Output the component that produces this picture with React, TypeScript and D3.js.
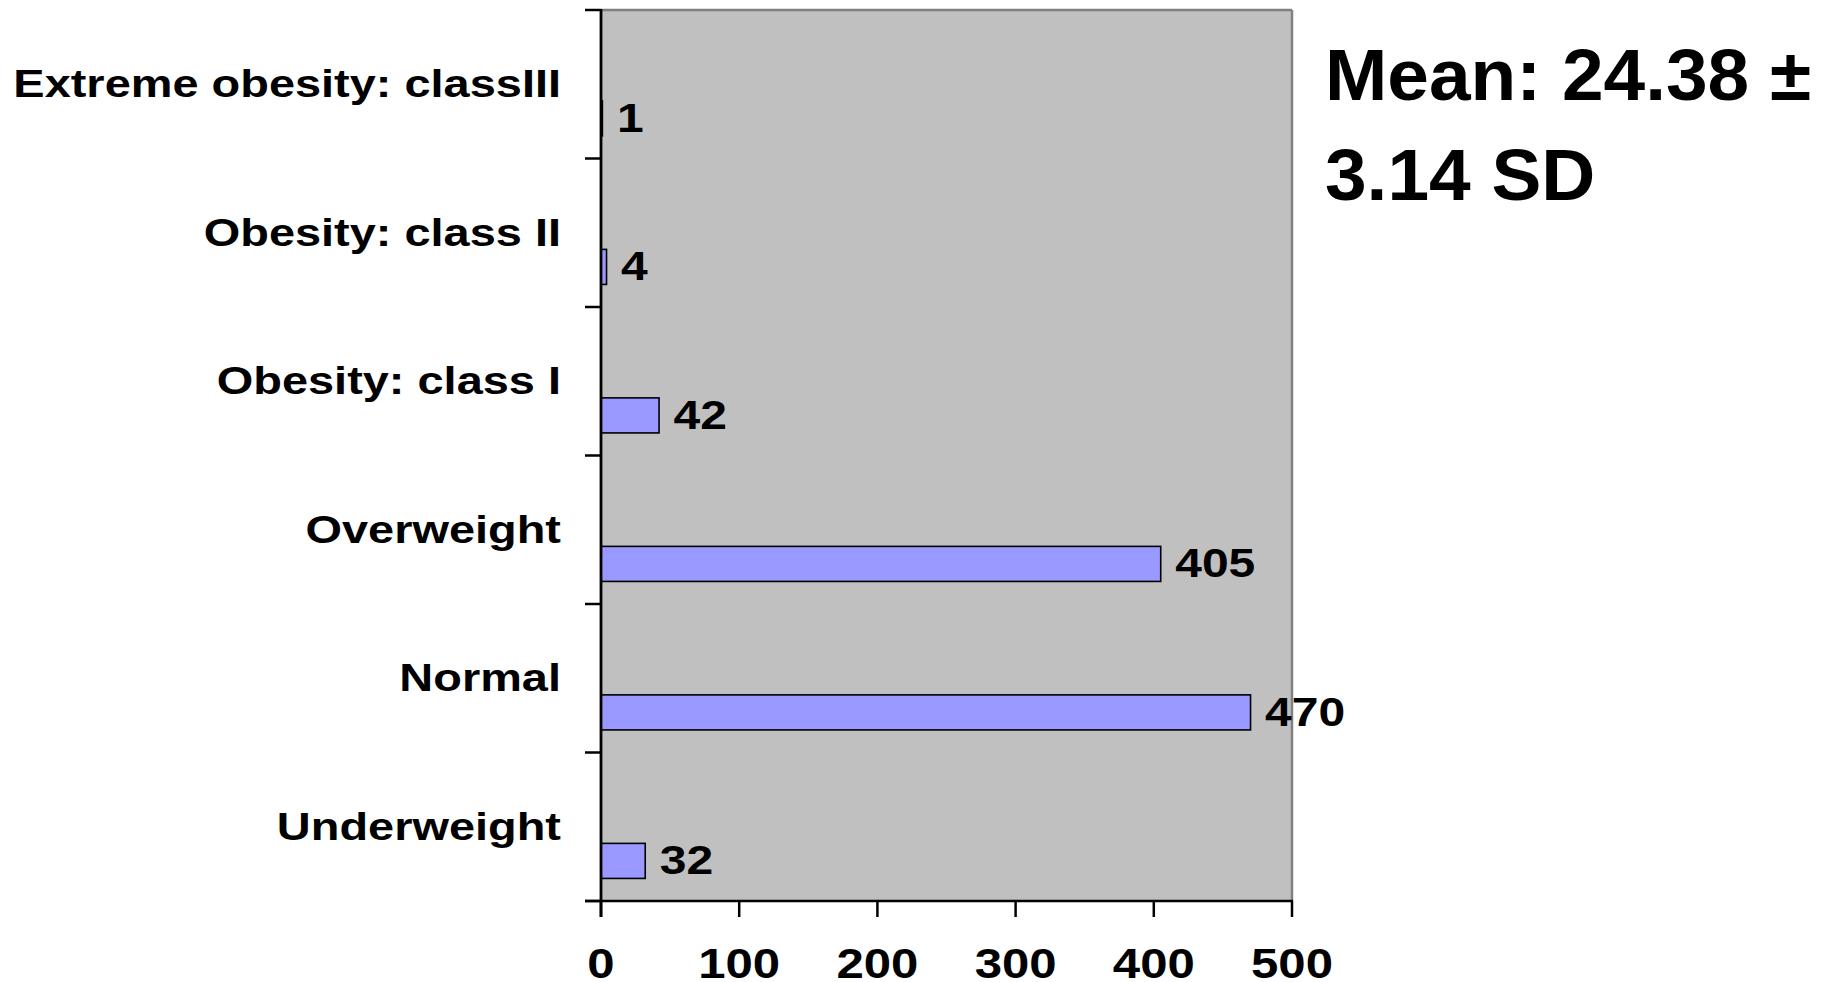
import React from "react";
import * as d3 from "d3";

// BMI categories, listed bottom to top as drawn
const categories = [
  "Underweight",
  "Normal",
  "Overweight",
  "Obesity: class I",
  "Obesity: class II",
  "Extreme obesity: classIII",
];
const counts = [32, 470, 405, 42, 4, 1];
const xTicks = [0, 100, 200, 300, 400, 500];
const noteLines = ["Mean: 24.38 \u00b1", "3.14 SD"];

const W = 1827;
const H = 982;
const plot = { left: 601, right: 1292, top: 10, bottom: 901 };
const FONT = "'Liberation Sans', Arial, Helvetica, sans-serif";

export default function App() {
  const x = d3.scaleLinear().domain([0, 500]).range([plot.left, plot.right]);
  // bands top-to-bottom: reverse so the first category sits at the bottom
  const y = d3
    .scaleBand<string>()
    .domain([...categories].reverse())
    .range([plot.top, plot.bottom])
    .padding(0);
  const bw = y.bandwidth();
  const barTop = 0.612;
  const barBot = 0.848;
  const boundaries = d3.range(categories.length + 1).map((i) => plot.top + i * bw);

  return (
    <svg
      width={W}
      height={H}
      style={{ position: "absolute", left: 0, top: 0, background: "#fff" }}
      fontFamily={FONT}
      fontWeight="bold"
    >
      {/* plot background */}
      <rect
        x={plot.left}
        y={plot.top}
        width={plot.right - plot.left}
        height={plot.bottom - plot.top}
        fill="#C0C0C0"
      />
      {/* gray frame on top and right */}
      <line x1={plot.left} x2={plot.right} y1={plot.top} y2={plot.top} stroke="#808080" strokeWidth={2.5} />
      <line x1={plot.right} x2={plot.right} y1={plot.top} y2={plot.bottom} stroke="#808080" strokeWidth={2.5} />

      {/* bars */}
      {categories.map((c, i) => {
        const y0 = (y(c) as number) + bw * barTop;
        const h = bw * (barBot - barTop);
        return (
          <rect
            key={c}
            x={x(0)}
            y={y0}
            width={x(counts[i]) - x(0)}
            height={h}
            fill="#9999FF"
            stroke="#000"
            strokeWidth={1.6}
          />
        );
      })}

      {/* value labels */}
      {categories.map((c, i) => {
        const cy = (y(c) as number) + bw * (barTop + barBot) / 2;
        return (
          <text
            key={c + "v"}
            transform={`translate(${x(counts[i]) + 14.5},${cy + 13.5}) scale(1.2,1)`}
            fontSize={40}
            fill="#000"
          >
            {counts[i]}
          </text>
        );
      })}

      {/* category labels */}
      {categories.map((c) => (
        <text
          key={c + "l"}
          transform={`translate(561,${(y(c) as number) + 87}) scale(1.235,1)`}
          fontSize={38}
          textAnchor="end"
          fill="#000"
        >
          {c}
        </text>
      ))}

      {/* y axis with outward ticks at band boundaries */}
      <line x1={plot.left} x2={plot.left} y1={plot.top - 1} y2={plot.bottom + 16} stroke="#000" strokeWidth={2.8} />
      {boundaries.map((b, i) => (
        <line key={"yt" + i} x1={plot.left - 16} x2={plot.left} y1={b} y2={b} stroke="#000" strokeWidth={2.5} />
      ))}

      {/* x axis */}
      <line x1={plot.left - 16} x2={plot.right + 1} y1={plot.bottom} y2={plot.bottom} stroke="#000" strokeWidth={2.5} />
      {xTicks.map((t) => (
        <g key={"xt" + t}>
          <line x1={x(t)} x2={x(t)} y1={plot.bottom} y2={plot.bottom + 16} stroke="#000" strokeWidth={2.5} />
          <text
            transform={`translate(${x(t)},978) scale(1.17,1)`}
            fontSize={42}
            textAnchor="middle"
            fill="#000"
          >
            {t}
          </text>
        </g>
      ))}

      {/* summary note */}
      {noteLines.map((s, i) => (
        <text
          key={"n" + i}
          transform={`translate(1325,${100 + i * 100}) scale(1.025,1)`}
          fontSize={73}
          fill="#000"
        >
          {s}
        </text>
      ))}
    </svg>
  );
}
